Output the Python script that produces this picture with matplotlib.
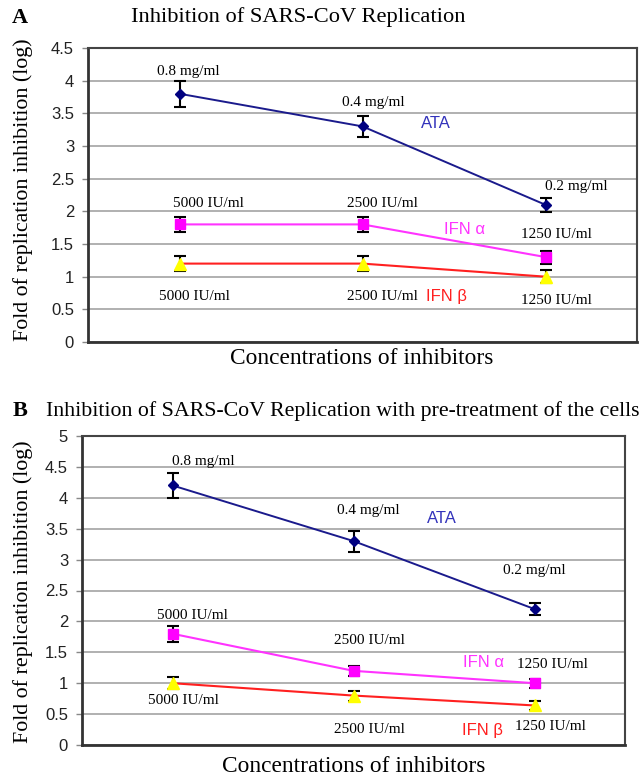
import matplotlib
matplotlib.use("Agg")
import matplotlib.pyplot as plt
import numpy as np

# data
categories = [0, 1, 2]

ata_a = [3.8, 3.3, 2.1]
ata_a_err = [0.2, 0.16, 0.11]
ifna_a = [1.8, 1.8, 1.3]
ifna_a_err = [0.12, 0.12, 0.1]
ifnb_a = [1.2, 1.2, 1.0]
ifnb_a_err = [0.12, 0.12, 0.1]

ata_b = [4.2, 3.3, 2.2]
ata_b_err = [0.2, 0.17, 0.1]
ifna_b = [1.8, 1.2, 1.0]
ifna_b_err = [0.13, 0.08, 0.07]
ifnb_b = [1.0, 0.8, 0.64]
ifnb_b_err = [0.1, 0.08, 0.08]

ata_doses = ["0.8 mg/ml", "0.4 mg/ml", "0.2 mg/ml"]
ifn_doses = ["5000 IU/ml", "2500 IU/ml", "1250 IU/ml"]
series_names = ["ATA", "IFN α", "IFN β"]

# label anchors (x, y) in data coords
lab_a = {
    "ata": [(0.05, 4.14), (1.06, 3.66), (2.17, 2.38)],
    "ifna": [(0.16, 2.12), (1.11, 2.12), (2.06, 1.65)],
    "ifnb": [(0.08, 0.70), (1.11, 0.70), (2.06, 0.64)],
    "names": [(1.40, 3.34), (1.56, 1.72), (1.46, 0.69)],
}
lab_b = {
    "ata": [(0.17, 4.58), (1.08, 3.80), (2.0, 2.82)],
    "ifna": [(0.11, 2.10), (1.09, 1.69), (2.10, 1.30)],
    "ifnb": [(0.06, 0.72), (1.09, 0.25), (2.09, 0.30)],
    "names": [(1.49, 3.67), (1.72, 1.34), (1.71, 0.24)],
}

SERIF = "Liberation Serif"
SANS = "Liberation Sans"
ATA_C = "#1a1a8c"
IFNA_C = "#ff33ff"
IFNB_C = "#ff2020"


def draw_panel(ax, ata, ata_err, ifna, ifna_err, ifnb, ifnb_err, ymax, labs):
    ax.set_xlim(-0.5, 2.5)
    ax.set_ylim(0, ymax)
    ticks = np.arange(0, ymax + 0.01, 0.5)
    ax.set_yticks(ticks)
    ax.set_yticklabels([f"{v:g}" for v in ticks], family=SANS, fontsize=12, color="#222222")
    ax.set_xticks([])
    ax.tick_params(axis="y", length=4, width=1, color="#888888", pad=6)
    ax.grid(axis="y", color="#aaaaaa", linewidth=1.3)
    ax.set_axisbelow(True)
    for s in ["top", "right"]:
        ax.spines[s].set_color("#444444")
        ax.spines[s].set_linewidth(1.5)
    for s in ["left", "bottom"]:
        ax.spines[s].set_color("#333333")
        ax.spines[s].set_linewidth(2)

    ax.errorbar(categories, ifnb, yerr=ifnb_err, color=IFNB_C, lw=1.5, ecolor="black",
                elinewidth=1.5, capsize=4, capthick=1.5, marker="^", ms=8,
                mfc="#ffff00", mec="#ffff00", zorder=3)
    ax.errorbar(categories, ifna, yerr=ifna_err, color=IFNA_C, lw=1.5, ecolor="black",
                elinewidth=1.5, capsize=4, capthick=1.5, marker="s", ms=6.5,
                mfc="#ff00ff", mec="#ff00ff", zorder=3)
    ax.errorbar(categories, ata, yerr=ata_err, color=ATA_C, lw=1.4, ecolor="black",
                elinewidth=1.5, capsize=4, capthick=1.5, marker="D", ms=5.5,
                mfc="#000080", mec="#000080", zorder=3)

    for key, texts in [("ata", ata_doses), ("ifna", ifn_doses), ("ifnb", ifn_doses)]:
        for (x, y), t in zip(labs[key], texts):
            ax.text(x, y, t, family=SERIF, fontsize=11, ha="center", va="center")
    cols = ["#3333bb", IFNA_C, IFNB_C]
    for (x, y), t, c in zip(labs["names"], series_names, cols):
        ax.text(x, y, t, family=SANS, fontsize=12, color=c, ha="center", va="center")


fig = plt.figure(figsize=(6.42, 7.78), dpi=100)
W, H = 642, 778

ax_a = fig.add_axes([88 / W, 1 - 342 / H, (637 - 88) / W, (342 - 48) / H])
draw_panel(ax_a, ata_a, ata_a_err, ifna_a, ifna_a_err, ifnb_a, ifnb_a_err, 4.5, lab_a)

ax_b = fig.add_axes([82 / W, 1 - 745 / H, (625 - 82) / W, (745 - 436) / H])
draw_panel(ax_b, ata_b, ata_b_err, ifna_b, ifna_b_err, ifnb_b, ifnb_b_err, 5, lab_b)

# panel letters and titles
fig.text(20 / W, 1 - 18 / H, "A", family=SERIF, fontsize=16, weight="bold", ha="center", va="center")
fig.text(298 / W, 1 - 17 / H, "Inhibition of SARS-CoV Replication", family=SERIF, fontsize=16.2,
         ha="center", va="center")
fig.text(20 / W, 1 - 411 / H, "B", family=SERIF, fontsize=16, weight="bold", ha="center", va="center")
fig.text(46 / W, 1 - 411 / H, "Inhibition of SARS-CoV Replication with pre-treatment of the cells",
         family=SERIF, fontsize=15.75, ha="left", va="center")

# axis labels
for yc in [190, 592]:
    fig.text(23 / W, 1 - yc / H, "Fold of replication inhibition (log)", family=SERIF, fontsize=15.8,
             rotation=90, ha="center", va="center")
fig.text(362 / W, 1 - 358 / H, "Concentrations of inhibitors", family=SERIF, fontsize=16.8,
         ha="center", va="center")
fig.text(354 / W, 1 - 767 / H, "Concentrations of inhibitors", family=SERIF, fontsize=16.8,
         ha="center", va="center")

fig.savefig("out.png", dpi=100)
